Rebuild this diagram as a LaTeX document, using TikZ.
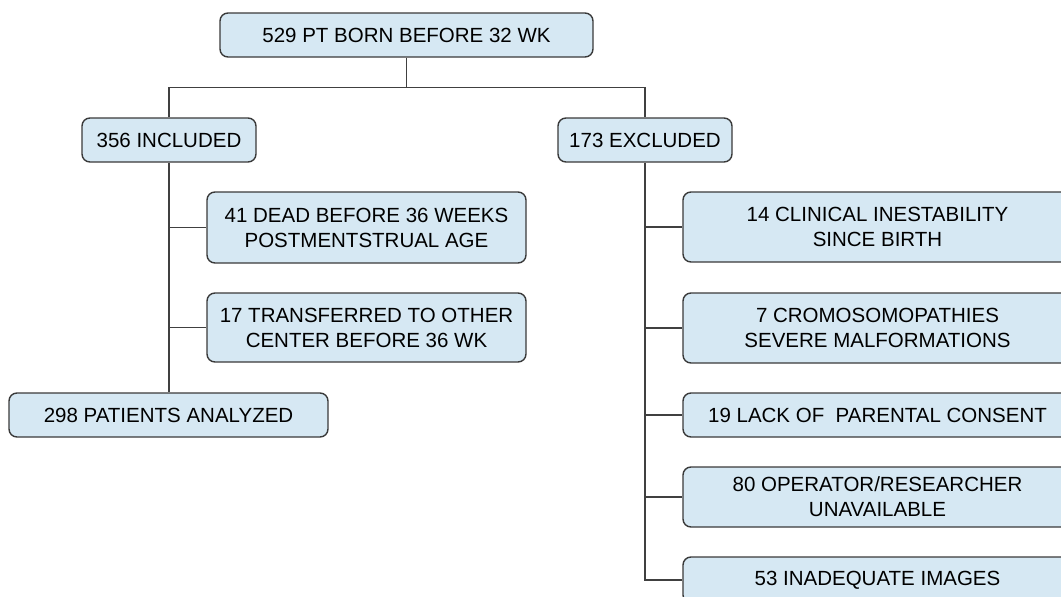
\documentclass[tikz,border=0pt]{standalone}
\usepackage{fontspec}
\setmainfont{Liberation Sans}
\definecolor{boxfill}{HTML}{D6E8F3}
\definecolor{boxline}{HTML}{3A3A3A}
\definecolor{conn}{HTML}{404040}
\begin{document}
\begin{tikzpicture}[x=1pt,y=-1pt,
  fbox/.style={draw=boxline,fill=boxfill,line width=1.4pt,rounded corners=8pt,
    align=center,inner sep=0pt,font=\fontsize{20.5}{25}\selectfont},
  link/.style={draw=conn,line width=1.5pt}]
\clip (0,0) rectangle (1061,597);
\node[fbox,minimum width=373pt,minimum height=44pt] (top) at (406.5,35) {529 PT BORN BEFORE 32 WK};
\node[fbox,minimum width=174pt,minimum height=44pt] (inc) at (169,140) {356 INCLUDED};
\node[fbox,minimum width=174pt,minimum height=44pt] (exc) at (645,140) {173 EXCLUDED};
\node[fbox,minimum width=319pt,minimum height=71pt] (dead) at (366.5,227.5) {41 DEAD BEFORE 36 WEEKS\\POSTMENTSTRUAL AGE};
\node[fbox,minimum width=319pt,minimum height=69pt] (trans) at (366.5,327.5) {17 TRANSFERRED TO OTHER\\CENTER BEFORE 36 WK};
\node[fbox,minimum width=319pt,minimum height=44pt] (ana) at (168.5,415) {298 PATIENTS ANALYZED};
\node[fbox,minimum width=389pt,minimum height=70pt] (clin) at (877.5,227) {14 CLINICAL INESTABILITY\\SINCE BIRTH};
\node[fbox,minimum width=389pt,minimum height=70pt] (crom) at (877.5,328) {7 CROMOSOMOPATHIES\\SEVERE MALFORMATIONS};
\node[fbox,minimum width=389pt,minimum height=44pt] (lack) at (877.5,415) {19 LACK OF~ PARENTAL CONSENT};
\node[fbox,minimum width=389pt,minimum height=60pt] (oper) at (877.5,497) {80 OPERATOR/RESEARCHER\\UNAVAILABLE};
\node[fbox,minimum width=389pt,minimum height=46pt] (inad) at (877.5,580) {53 INADEQUATE IMAGES};
% connectors
\draw[link] (top.south) -- ++(0,30) coordinate (j);
\draw[link] (inc.north) -- (inc.north |- j) -- (exc.north |- j) -- (exc.north);
\draw[link] (inc.south) -- (inc.south |- ana.north);
\draw[link] (inc.south |- dead.west) -- (dead.west);
\draw[link] (inc.south |- trans.west) -- (trans.west);
\draw[link] (exc.south) |- (inad.west);
\draw[link] (exc.south |- clin.west) -- (clin.west);
\draw[link] (exc.south |- crom.west) -- (crom.west);
\draw[link] (exc.south |- lack.west) -- (lack.west);
\draw[link] (exc.south |- oper.west) -- (oper.west);
\end{tikzpicture}
\end{document}
